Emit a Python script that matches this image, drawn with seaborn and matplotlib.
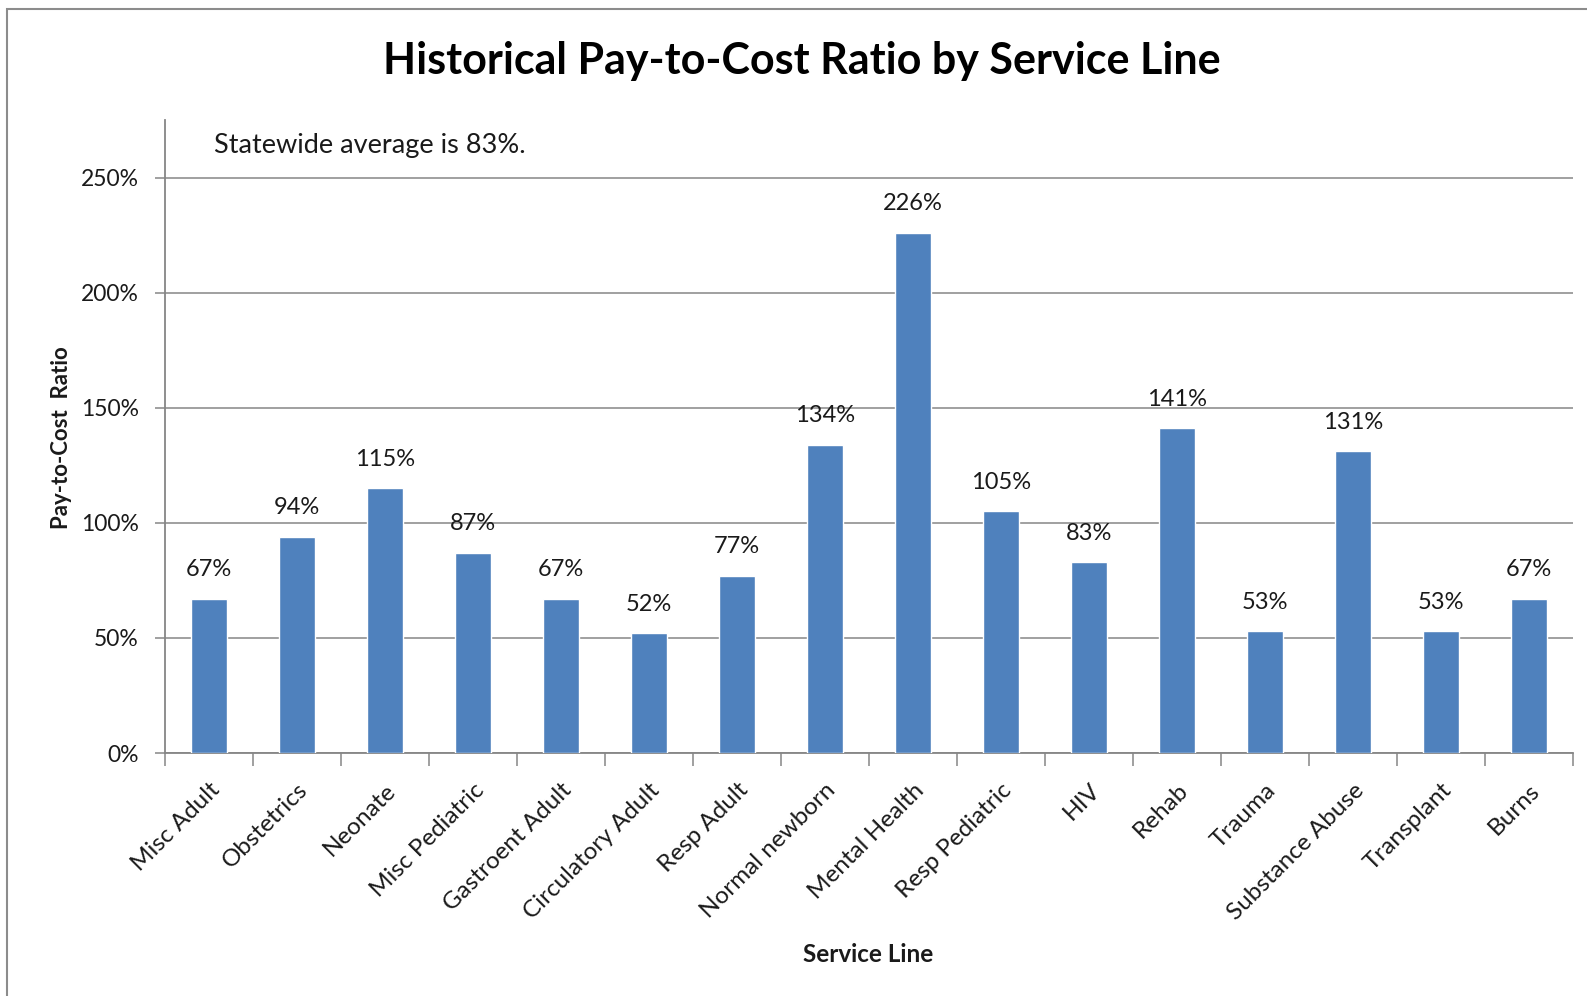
import numpy as np
import pandas as pd
import seaborn as sns
import matplotlib
matplotlib.use('Agg')
import matplotlib.pyplot as plt
from matplotlib.patches import Rectangle
from matplotlib.ticker import FixedLocator

service_lines = ['Misc Adult', 'Obstetrics', 'Neonate', 'Misc Pediatric', 'Gastroent Adult',
                 'Circulatory Adult', 'Resp Adult', 'Normal newborn', 'Mental Health',
                 'Resp Pediatric', 'HIV', 'Rehab', 'Trauma', 'Substance Abuse',
                 'Transplant', 'Burns']
ratios = [67, 94, 115, 87, 67, 52, 77, 134, 226, 105, 83, 141, 53, 131, 53, 67]
y_ticks = [0, 50, 100, 150, 200, 250]

df = pd.DataFrame({'service_line': service_lines, 'ratio': ratios})

sns.set_style('white')
plt.rcParams['font.family'] = ['Lato', 'DejaVu Sans']

fig = plt.figure(figsize=(15.87, 9.96), dpi=100)
ax = fig.add_axes([165 / 1587, 1 - 753 / 996, (1573 - 165) / 1587, (753 - 120) / 996])

grid_col = '#868686'
text_col = '#1a1a1a'

sns.barplot(data=df, x='service_line', y='ratio', color='#4F81BD', width=0.41,
            saturation=1, ax=ax, zorder=3)

ax.set_xlim(-0.5, len(service_lines) - 0.5)
ax.set_ylim(0, 275)
ax.set_yticks(y_ticks)
ax.set_yticklabels([f'{t}%' for t in y_ticks], fontsize=16.5, color=text_col)
ax.yaxis.grid(True, color=grid_col, linewidth=1.1, zorder=0)
ax.set_axisbelow(True)

for s in ['top', 'right']:
    ax.spines[s].set_visible(False)
for s in ['left', 'bottom']:
    ax.spines[s].set_color(grid_col)
    ax.spines[s].set_linewidth(1.3)

ax.tick_params(axis='y', length=7, width=1.1, color=grid_col, pad=12, left=True)
ax.set_xticks(range(len(service_lines)))
ax.set_xticklabels(service_lines, rotation=45, ha='right', rotation_mode='anchor',
                   fontsize=17.5, color=text_col)
ax.tick_params(axis='x', which='major', length=0, pad=19)
ax.xaxis.set_minor_locator(FixedLocator(np.arange(-0.5, len(service_lines), 1)))
ax.tick_params(axis='x', which='minor', length=9, width=1.1, color=grid_col, bottom=True)

for i, v in enumerate(ratios):
    ax.text(i, v + 8, f'{v}%', ha='center', va='bottom', fontsize=17, color=text_col)

ax.set_xlabel('Service Line', fontsize=17.5, fontweight='bold', color=text_col, labelpad=0)
ax.xaxis.set_label_coords((868 - 165) / (1573 - 165), -(943 - 753) / (753 - 120))
ax.set_ylabel('Pay-to-Cost  Ratio', fontsize=16, fontweight='bold', color=text_col)
ax.yaxis.set_label_coords(-(165 - 72) / (1573 - 165), (753 - 438) / (753 - 120))

ax.text((214 - 165) / (1573 - 165), (753 - 145) / (753 - 120), 'Statewide average is 83%.',
        transform=ax.transAxes, ha='left', va='center', fontsize=19.5, color=text_col)

fig.text(802 / 1587, 1 - 61 / 996, 'Historical Pay-to-Cost Ratio by Service Line',
         ha='center', va='center', fontsize=31, fontweight='bold', color='black')

fig.patches.append(Rectangle((7 / 1587, -0.05), 1.2, 1 - 9 / 996 + 0.05,
                             transform=fig.transFigure, fill=False,
                             edgecolor='#8c8c8c', linewidth=1.5))

fig.savefig('out.png', dpi=100)
